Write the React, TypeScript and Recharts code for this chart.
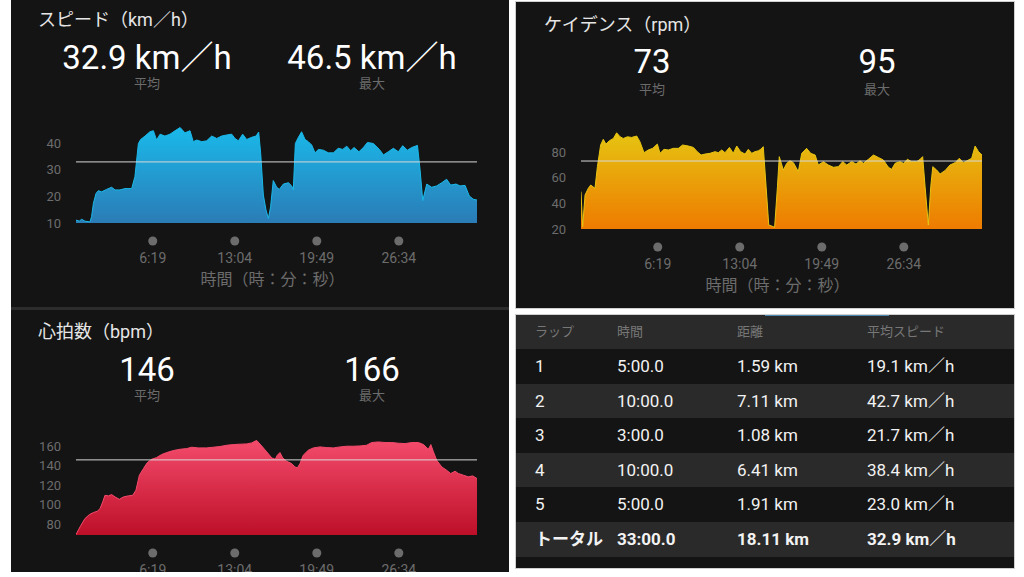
import React from 'react';
import { AreaChart, Area, XAxis, YAxis, ReferenceLine, Label } from 'recharts';

// ---------- data ----------
const xTickSeconds = [379, 784, 1189, 1594];
const xTickLabels = ['6:19', '13:04', '19:49', '26:34'];
const xAxisTitle = '時間（時：分：秒）';

const speedT = [0,16,28,44,69,77,86,99,110,127,151,176,193,217,242,275,291,308,319,341,365,382,398,415,439,464,489,514,538,563,579,596,621,645,670,695,719,744,769,785,802,823,843,867,889,902,912,925,938,950,961,974,991,1004,1024,1049,1065,1073,1083,1098,1114,1131,1147,1164,1180,1197,1221,1246,1271,1295,1317,1337,1356,1373,1397,1419,1439,1468,1498,1518,1542,1567,1592,1613,1636,1658,1686,1699,1712,1732,1756,1781,1806,1830,1850,1876,1896,1921,1942,1962,1980];
const speedV = [11.1,10.7,11.4,10.7,10.4,12.4,17.4,21.1,22.1,21.7,22.6,23.4,22.4,22.4,22.9,22.9,27.4,39.8,41.3,42.6,44.2,44.6,41.1,43.3,42.6,43.3,44.6,45.8,43.8,44.6,40.5,41.1,40.5,40.8,42.6,41.7,42.6,43.0,43.3,41.7,40.8,43.3,41.3,42.1,42.6,44.1,36.1,20.5,14.9,11.7,16.1,25.9,23.4,22.6,24.6,25.1,23.9,22.4,39.8,42.1,44.2,41.3,40.5,39.2,36.3,37.6,37.3,36.3,36.3,38.0,37.6,38.8,37.1,38.3,36.7,38.3,40.2,39.8,37.6,35.5,36.7,38.0,36.7,39.0,37.3,38.3,39.1,29.9,18.4,24.6,23.4,23.9,25.1,26.4,24.2,24.6,23.9,24.1,20.1,18.9,18.6];
const speedTicks = [10, 20, 30, 40];
const speedAvg = 32.9;

const cadT = [0,8,20,36,48,69,81,97,110,123,140,160,176,193,209,229,250,275,291,311,332,354,377,390,410,431,456,481,502,530,555,574,593,612,637,662,678,695,711,733,752,769,788,810,826,843,859,876,887,900,914,927,942,956,970,979,999,1016,1032,1049,1073,1090,1114,1134,1156,1172,1197,1221,1246,1271,1292,1312,1337,1358,1378,1394,1419,1444,1468,1493,1518,1534,1551,1575,1592,1612,1633,1658,1674,1687,1699,1715,1727,1737,1756,1773,1797,1822,1847,1868,1888,1913,1929,1946,1963,1980];
const cadV = [49.1,21.8,46.5,51.7,54.3,51.7,68.6,85.5,89.9,86.2,88.8,90.6,95.0,91.9,90.6,91.9,91.4,92.5,88.1,79.5,81.6,82.9,86.2,79.0,82.1,81.6,82.9,82.9,85.5,84.7,83.6,80.3,77.7,78.4,79.0,80.3,79.5,81.6,79.5,83.6,79.0,84.7,80.3,78.4,82.1,79.0,80.3,81.0,82.1,84.2,53.0,23.1,22.3,21.3,53.0,76.4,66.0,71.2,73.2,71.7,64.7,79.0,82.9,79.0,77.7,69.9,72.5,69.9,68.1,68.6,72.5,69.9,72.5,70.6,73.2,71.2,74.3,77.7,75.8,73.8,68.1,66.5,71.2,72.5,71.2,74.3,72.5,72.5,74.3,76.4,53.0,23.1,53.0,68.6,66.0,62.9,65.5,69.9,71.7,75.1,71.7,73.8,75.1,84.7,80.3,77.7];
const cadTicks = [20, 40, 60, 80];
const cadAvg = 73;

const hrT = [0,20,44,66,86,105,119,132,143,160,176,193,214,234,258,280,296,313,333,352,374,398,423,448,481,514,547,571,604,645,678,711,744,777,810,843,867,892,917,942,967,984,994,1007,1021,1040,1065,1081,1093,1106,1122,1147,1172,1205,1238,1271,1304,1337,1369,1402,1435,1460,1493,1526,1559,1592,1625,1658,1691,1716,1740,1752,1765,1781,1806,1830,1850,1872,1888,1913,1937,1959,1980];
const hrV = [69.4,77.3,85.8,89.9,92.0,93.3,96.1,102.9,109.7,109.1,110.4,108.0,105.6,108.0,109.1,109.7,114.9,130.3,137.1,143.2,146.7,148.4,151.5,153.5,155.6,156.9,157.6,159.0,158.3,158.3,159.0,159.7,161.0,161.7,162.1,162.4,163.4,166.0,160.3,154.2,148.0,146.7,150.8,153.5,148.0,144.6,142.2,138.8,137.8,142.2,150.8,155.9,158.3,159.3,158.6,158.3,159.3,160.0,160.0,160.3,161.0,163.8,164.4,163.8,163.8,163.1,162.7,163.8,163.8,161.7,156.9,161.7,154.2,145.6,138.8,135.4,132.0,134.4,132.0,130.3,128.6,129.6,126.8];
const hrTicks = [80, 100, 120, 140, 160];
const hrAvg = 146;

const lapNo = ['1', '2', '3', '4', '5', 'トータル'];
const lapTime = ['5:00.0', '10:00.0', '3:00.0', '10:00.0', '5:00.0', '33:00.0'];
const lapDist = ['1.59 km', '7.11 km', '1.08 km', '6.41 km', '1.91 km', '18.11 km'];
const lapSpeed = ['19.1 km／h', '42.7 km／h', '21.7 km／h', '38.4 km／h', '23.0 km／h', '32.9 km／h'];
const lapHeaders = ['ラップ', '時間', '距離', '平均スピード'];

// ---------- styles ----------
const FONT = 'Roboto, "Noto Sans CJK JP", sans-serif';
const PANEL_BG = '#141414';
const GREY = '#6c6c6c';

const TimeTick = (props: any) => {
  const { x, y, payload } = props;
  const i = xTickSeconds.indexOf(payload.value);
  return (
    <g>
      <circle cx={x} cy={y + 18} r={4.5} fill={GREY} />
      <text x={x} y={y + 35} textAnchor="middle" dominantBaseline="central" fill={GREY} fontSize={14} fontFamily={FONT}>
        {xTickLabels[i]}
      </text>
    </g>
  );
};

type ChartProps = {
  id: string;
  t: number[];
  v: number[];
  domain: [number, number];
  ticks: number[];
  avg: number;
  top: string;
  bottom: string;
  height: number;
  marginTop: number;
};

const MetricChart = ({ id, t, v, domain, ticks, avg, top, bottom, height, marginTop }: ChartProps) => {
  const data = t.map((tt, i) => ({ t: tt, v: v[i] }));
  return (
    <AreaChart width={498} height={height} data={data} margin={{ top: marginTop, right: 32, left: 0, bottom: 0 }}>
      <defs>
        <linearGradient id={id} x1="0" y1="0" x2="0" y2="1">
          <stop offset="0%" stopColor={top} />
          <stop offset="100%" stopColor={bottom} />
        </linearGradient>
      </defs>
      <XAxis
        dataKey="t"
        type="number"
        domain={[0, 1980]}
        ticks={xTickSeconds}
        tick={<TimeTick />}
        interval={0}
        tickSize={0}
        tickMargin={0}
        axisLine={false}
        tickLine={false}
        height={77}
        allowDataOverflow
      >
        <Label value={xAxisTitle} position="insideBottom" offset={15} dx={-4} fill={GREY} fontSize={16} fontFamily={FONT} />
      </XAxis>
      <YAxis
        type="number"
        domain={domain}
        ticks={ticks}
        interval={0}
        width={65}
        tickSize={0}
        tickMargin={15}
        axisLine={false}
        tickLine={false}
        allowDataOverflow
        tick={{ fill: GREY, fontSize: 13, fontFamily: FONT }}
      />
      <Area
        type="linear"
        dataKey="v"
        stroke={top}
        strokeWidth={1}
        fill={`url(#${id})`}
        fillOpacity={1}
        isAnimationActive={false}
        dot={false}
        activeDot={false}
      />
      <ReferenceLine y={avg} stroke="#d8d8d8" strokeWidth={1} ifOverflow="extendDomain" />
    </AreaChart>
  );
};

const txt = (s: React.CSSProperties): React.CSSProperties => ({
  position: 'absolute',
  fontFamily: FONT,
  whiteSpace: 'nowrap',
  ...s,
});

const Header = ({ title, avg, max, titleTop, numTop, subTop, titleLeft }: any) => (
  <>
    <div style={txt({ left: titleLeft, top: titleTop, fontSize: 18, lineHeight: '22px', color: '#e6e6e6' })}>{title}</div>
    <div style={txt({ left: 36, width: 200, textAlign: 'center', top: numTop, fontSize: 33, lineHeight: '36px', color: '#ffffff' })}>{avg}</div>
    <div style={txt({ left: 261, width: 200, textAlign: 'center', top: numTop, fontSize: 33, lineHeight: '36px', color: '#ffffff' })}>{max}</div>
    <div style={txt({ left: 36, width: 200, textAlign: 'center', top: subTop, fontSize: 13, lineHeight: '16px', color: GREY })}>平均</div>
    <div style={txt({ left: 261, width: 200, textAlign: 'center', top: subTop, fontSize: 13, lineHeight: '16px', color: GREY })}>最大</div>
  </>
);

const colLeft = [19, 101, 221, 351];
const rowTop0 = 34;
const rowH = 34.6;

export default function App() {
  return (
    <div style={{ position: 'absolute', left: 0, top: 0, width: 1024, height: 577, background: '#ffffff', overflow: 'hidden' }}>
      {/* left column: speed + heart rate */}
      <div style={{ position: 'absolute', left: 11, top: 0, width: 498, height: 572, background: PANEL_BG, overflow: 'hidden' }}>
        <Header title="スピード（km／h）" avg="32.9 km／h" max="46.5 km／h" titleLeft={27} titleTop={9} numTop={40} subTop={76} />
        <div style={{ position: 'absolute', left: 0, top: 100 }}>
          <MetricChart id="gSpeed" t={speedT} v={speedV} domain={[10, 50]} ticks={speedTicks} avg={speedAvg}
            top="#1ab9ea" bottom="#2b7cb6" height={200} marginTop={16.3} />
        </div>
        <div style={{ position: 'absolute', left: 0, top: 307, width: 498, height: 3, background: '#2c2c2c' }} />
        <Header title="心拍数（bpm）" avg={String(hrAvg)} max="166" titleLeft={27} titleTop={321} numTop={352} subTop={388} />
        <div style={{ position: 'absolute', left: 0, top: 415 }}>
          <MetricChart id="gHr" t={hrT} v={hrV} domain={[69, 175]} ticks={hrTicks} avg={hrAvg}
            top="#f44b6c" bottom="#bd0f28" height={197} marginTop={16.6} />
        </div>
      </div>

      {/* cadence */}
      <div style={{ position: 'absolute', left: 516, top: 2, width: 498, height: 306, background: PANEL_BG, boxShadow: '0 0 0 1px #cfcfcf', overflow: 'hidden' }}>
        <Header title="ケイデンス（rpm）" avg={String(cadAvg)} max="95" titleLeft={28} titleTop={12} numTop={42} subTop={80} />
        <div style={{ position: 'absolute', left: 0, top: 108 }}>
          <MetricChart id="gCad" t={cadT} v={cadV} domain={[20, 100]} ticks={cadTicks} avg={cadAvg}
            top="#e6c412" bottom="#ee7b00" height={196} marginTop={16.4} />
        </div>
      </div>

      {/* laps table */}
      <div style={{ position: 'absolute', left: 516, top: 315, width: 498, height: 253, background: PANEL_BG, boxShadow: '0 0 0 1px #cfcfcf', overflow: 'hidden' }}>
        <div style={{ position: 'absolute', left: 0, top: 0, width: 498, height: rowTop0, background: '#2a2a2a' }} />
        <div style={{ position: 'absolute', left: 249, top: 0, width: 124, height: 1, background: '#4a88b0' }} />
        {lapHeaders.map((h, i) => (
          <div key={h} style={txt({ left: colLeft[i], top: 9, fontSize: 13, lineHeight: '16px', color: '#777777' })}>{h}</div>
        ))}
        {lapNo.map((n, r) => {
          const top = rowTop0 + r * rowH;
          const bold = r === lapNo.length - 1;
          const cells = [n, lapTime[r], lapDist[r], lapSpeed[r]];
          return (
            <div key={n} style={{ position: 'absolute', left: 0, top, width: 498, height: rowH, background: r % 2 === 1 ? '#2a2a2a' : PANEL_BG }}>
              {cells.map((c, ci) => (
                <div key={ci} style={txt({ left: colLeft[ci], top: 6, fontSize: 17, lineHeight: '22px', color: '#f2f2f2', fontWeight: bold ? 700 : 400 })}>{c}</div>
              ))}
            </div>
          );
        })}
      </div>
    </div>
  );
}
